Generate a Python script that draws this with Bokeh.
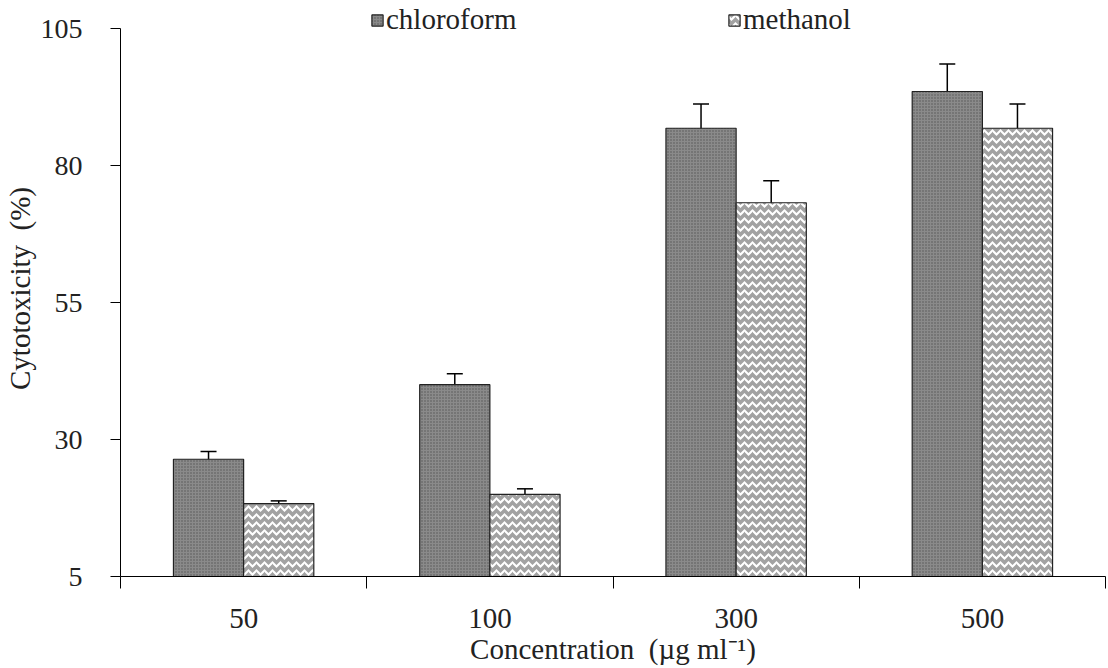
from bokeh.plotting import figure
from bokeh.models import ColumnDataSource, Whisker, TeeHead, FixedTicker, Legend, LegendItem, Range1d
from bokeh.embed import file_html
from bokeh.resources import INLINE

categories = ["50", "100", "300", "500"]
chloroform = [26.4, 40.0, 86.8, 93.5]
chloroform_err = [1.4, 2.0, 4.4, 5.0]
methanol = [18.3, 20.0, 73.2, 86.8]
methanol_err = [0.5, 1.0, 4.0, 4.4]
y_ticks = [5, 30, 55, 80, 105]

FONT = "Liberation Serif"
BW = 0.285

centers = [i + 0.5 for i in range(len(categories))]
src_c = ColumnDataSource(dict(
    x=[c - BW / 2 for c in centers], top=chloroform,
    upper=[v + e for v, e in zip(chloroform, chloroform_err)],
    lower=[v - e for v, e in zip(chloroform, chloroform_err)]))
src_m = ColumnDataSource(dict(
    x=[c + BW / 2 for c in centers], top=methanol,
    upper=[v + e for v, e in zip(methanol, methanol_err)],
    lower=[v - e for v, e in zip(methanol, methanol_err)]))

y_lo, y_hi = y_ticks[0], y_ticks[-1]
# leave headroom above the top tick (for the legend) at the same scale
headroom = (y_hi - y_lo) * 28 / 548

p = figure(width=1108, height=668, output_backend="svg", toolbar_location=None,
           x_range=Range1d(0, len(categories)), y_range=Range1d(y_lo, y_hi + headroom),
           min_border_left=120, min_border_right=3, min_border_top=0, min_border_bottom=92)
p.outline_line_color = None
p.xgrid.visible = False
p.ygrid.visible = False
p.background_fill_color = "white"

r_c = p.vbar(x="x", top="top", bottom=y_lo, width=BW, source=src_c,
             fill_color="#8a8a8a", line_color="#222222", line_width=1.2,
             hatch_pattern="dot", hatch_color="#555555", hatch_scale=3, hatch_weight=1)
r_m = p.vbar(x="x", top="top", bottom=y_lo, width=BW, source=src_m,
             fill_color="#a2a2a2", line_color="#222222", line_width=1.2,
             hatch_pattern="horizontal_wave", hatch_color="white", hatch_scale=8, hatch_weight=2)

for src in (src_c, src_m):
    w = Whisker(base="x", upper="upper", lower="lower", source=src,
                line_color="black", line_width=1.5,
                upper_head=TeeHead(size=16, line_color="black", line_width=1.5),
                lower_head=TeeHead(size=12, line_color="black", line_width=1.5))
    p.add_layout(w)

# axes
p.yaxis.bounds = (y_lo, y_hi)
p.yaxis.ticker = FixedTicker(ticks=y_ticks, minor_ticks=[])
p.yaxis.major_tick_in = 0
p.yaxis.major_tick_out = 10
p.yaxis.axis_line_color = "black"
p.yaxis.major_tick_line_color = "black"
p.yaxis.major_label_text_font = FONT
p.yaxis.major_label_text_font_size = "28px"
p.yaxis.major_label_text_color = "#222222"
p.yaxis.major_label_standoff = 28
p.yaxis.axis_label = "Cytotoxicity\u00a0\u00a0(%)"
p.yaxis.axis_label_text_font = FONT
p.yaxis.axis_label_text_font_size = "29px"
p.yaxis.axis_label_text_color = "#222222"
p.yaxis.axis_label_text_font_style = "normal"
p.yaxis.axis_label_standoff = 2

p.xaxis.ticker = FixedTicker(ticks=centers, minor_ticks=list(range(len(categories) + 1)))
p.xaxis.major_label_overrides = {c: lab for c, lab in zip(centers, categories)}
p.xaxis.major_tick_in = 0
p.xaxis.major_tick_out = 0
p.xaxis.minor_tick_in = 0
p.xaxis.minor_tick_out = 12
p.xaxis.minor_tick_line_color = "black"
p.xaxis.axis_line_color = "black"
p.xaxis.major_label_text_font = FONT
p.xaxis.major_label_text_font_size = "29px"
p.xaxis.major_label_text_color = "#222222"
p.xaxis.major_label_standoff = 20
p.xaxis.axis_label = "Concentration\u00a0\u00a0(µg\u00a0ml\u207b\u00b9)"
p.xaxis.axis_label_text_font = FONT
p.xaxis.axis_label_text_font_size = "29px"
p.xaxis.axis_label_text_color = "#222222"
p.xaxis.axis_label_text_font_style = "normal"
p.xaxis.axis_label_standoff = 2

for item, loc in ((LegendItem(label="chloroform", renderers=[r_c]), (250, 540)),
                  (LegendItem(label="methanol", renderers=[r_m]), (607, 540))):
    lg = Legend(items=[item], location=loc, orientation="horizontal",
                background_fill_alpha=0, border_line_color=None,
                label_text_font=FONT, label_text_font_size="29px",
                label_text_color="#222222",
                glyph_width=14, glyph_height=14, label_standoff=2,
                padding=0, margin=0)
    p.add_layout(lg, "center")

open("out.html", "w").write(file_html(p, INLINE))
